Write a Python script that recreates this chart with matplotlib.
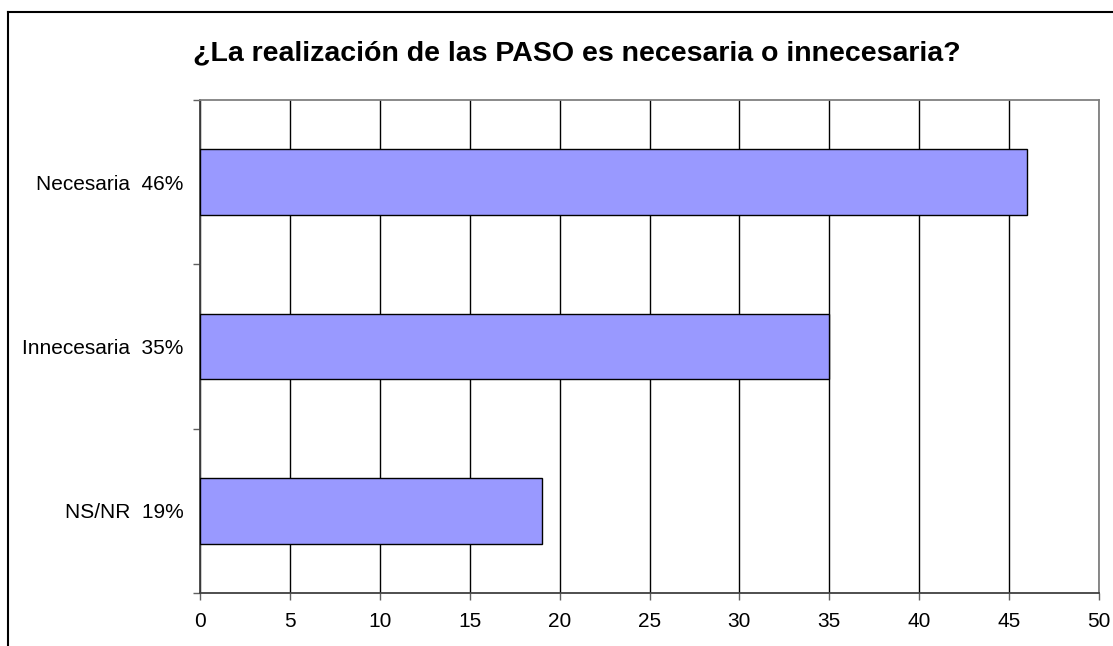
import matplotlib.pyplot as plt
from matplotlib.lines import Line2D

# datos (de abajo hacia arriba, como en el grafico)
categorias = ['NS/NR  19%', 'Innecesaria  35%', 'Necesaria  46%']
valores = [19, 35, 46]
ticks_x = [0, 5, 10, 15, 20, 25, 30, 35, 40, 45, 50]
titulo = '¿La realización de las PASO es necesaria o innecesaria?'

plt.rcParams['font.family'] = ['Liberation Sans', 'DejaVu Sans']

W, H = 1113, 646
fig = plt.figure(figsize=(W / 100, H / 100), dpi=100)
ax = fig.add_axes([200 / W, 1 - 593 / H, (1099 - 200) / W, (593 - 100) / H])

# grilla vertical detras de las barras
ax.set_axisbelow(True)
ax.grid(axis='x', color='black', linewidth=1.0)
ax.grid(axis='y', visible=False)

pos = list(range(len(categorias)))
ax.barh(pos, valores, height=0.4, color='#9999FF', edgecolor='black', linewidth=1.0, zorder=3)

ax.set_xlim(0, 50)
ax.set_ylim(-0.5, len(categorias) - 0.5)
ax.set_xticks(ticks_x)
ax.set_xticklabels([str(t) for t in ticks_x], fontsize=15)
ax.set_yticks(pos)
ax.set_yticklabels(categorias, fontsize=15)
ax.set_yticks([p - 0.5 for p in pos] + [len(categorias) - 0.5], minor=True)

ax.tick_params(axis='y', which='major', length=0, pad=12)
ax.tick_params(axis='y', which='minor', length=5, width=1, color='#606060', direction='out')
ax.tick_params(axis='x', which='major', length=5, width=1, color='#606060', direction='out', pad=9)

for lado in ['left', 'bottom']:
    ax.spines[lado].set_color('#404040')
    ax.spines[lado].set_linewidth(1.3)
for lado in ['top', 'right']:
    ax.spines[lado].set_color('#808080')
    ax.spines[lado].set_linewidth(1.3)

fig.text(193 / W, 1 - 60 / H, titulo, fontsize=20.5, fontweight='bold', ha='left', va='baseline')

# marco exterior (solo arriba e izquierda se ven)
fig.add_artist(Line2D([8 / W, 8 / W], [0, 1 - 12 / H], transform=fig.transFigure, color='black', linewidth=1.5))
fig.add_artist(Line2D([8 / W, 1], [1 - 12 / H, 1 - 12 / H], transform=fig.transFigure, color='black', linewidth=1.5))

fig.savefig('out.png', dpi=100)
